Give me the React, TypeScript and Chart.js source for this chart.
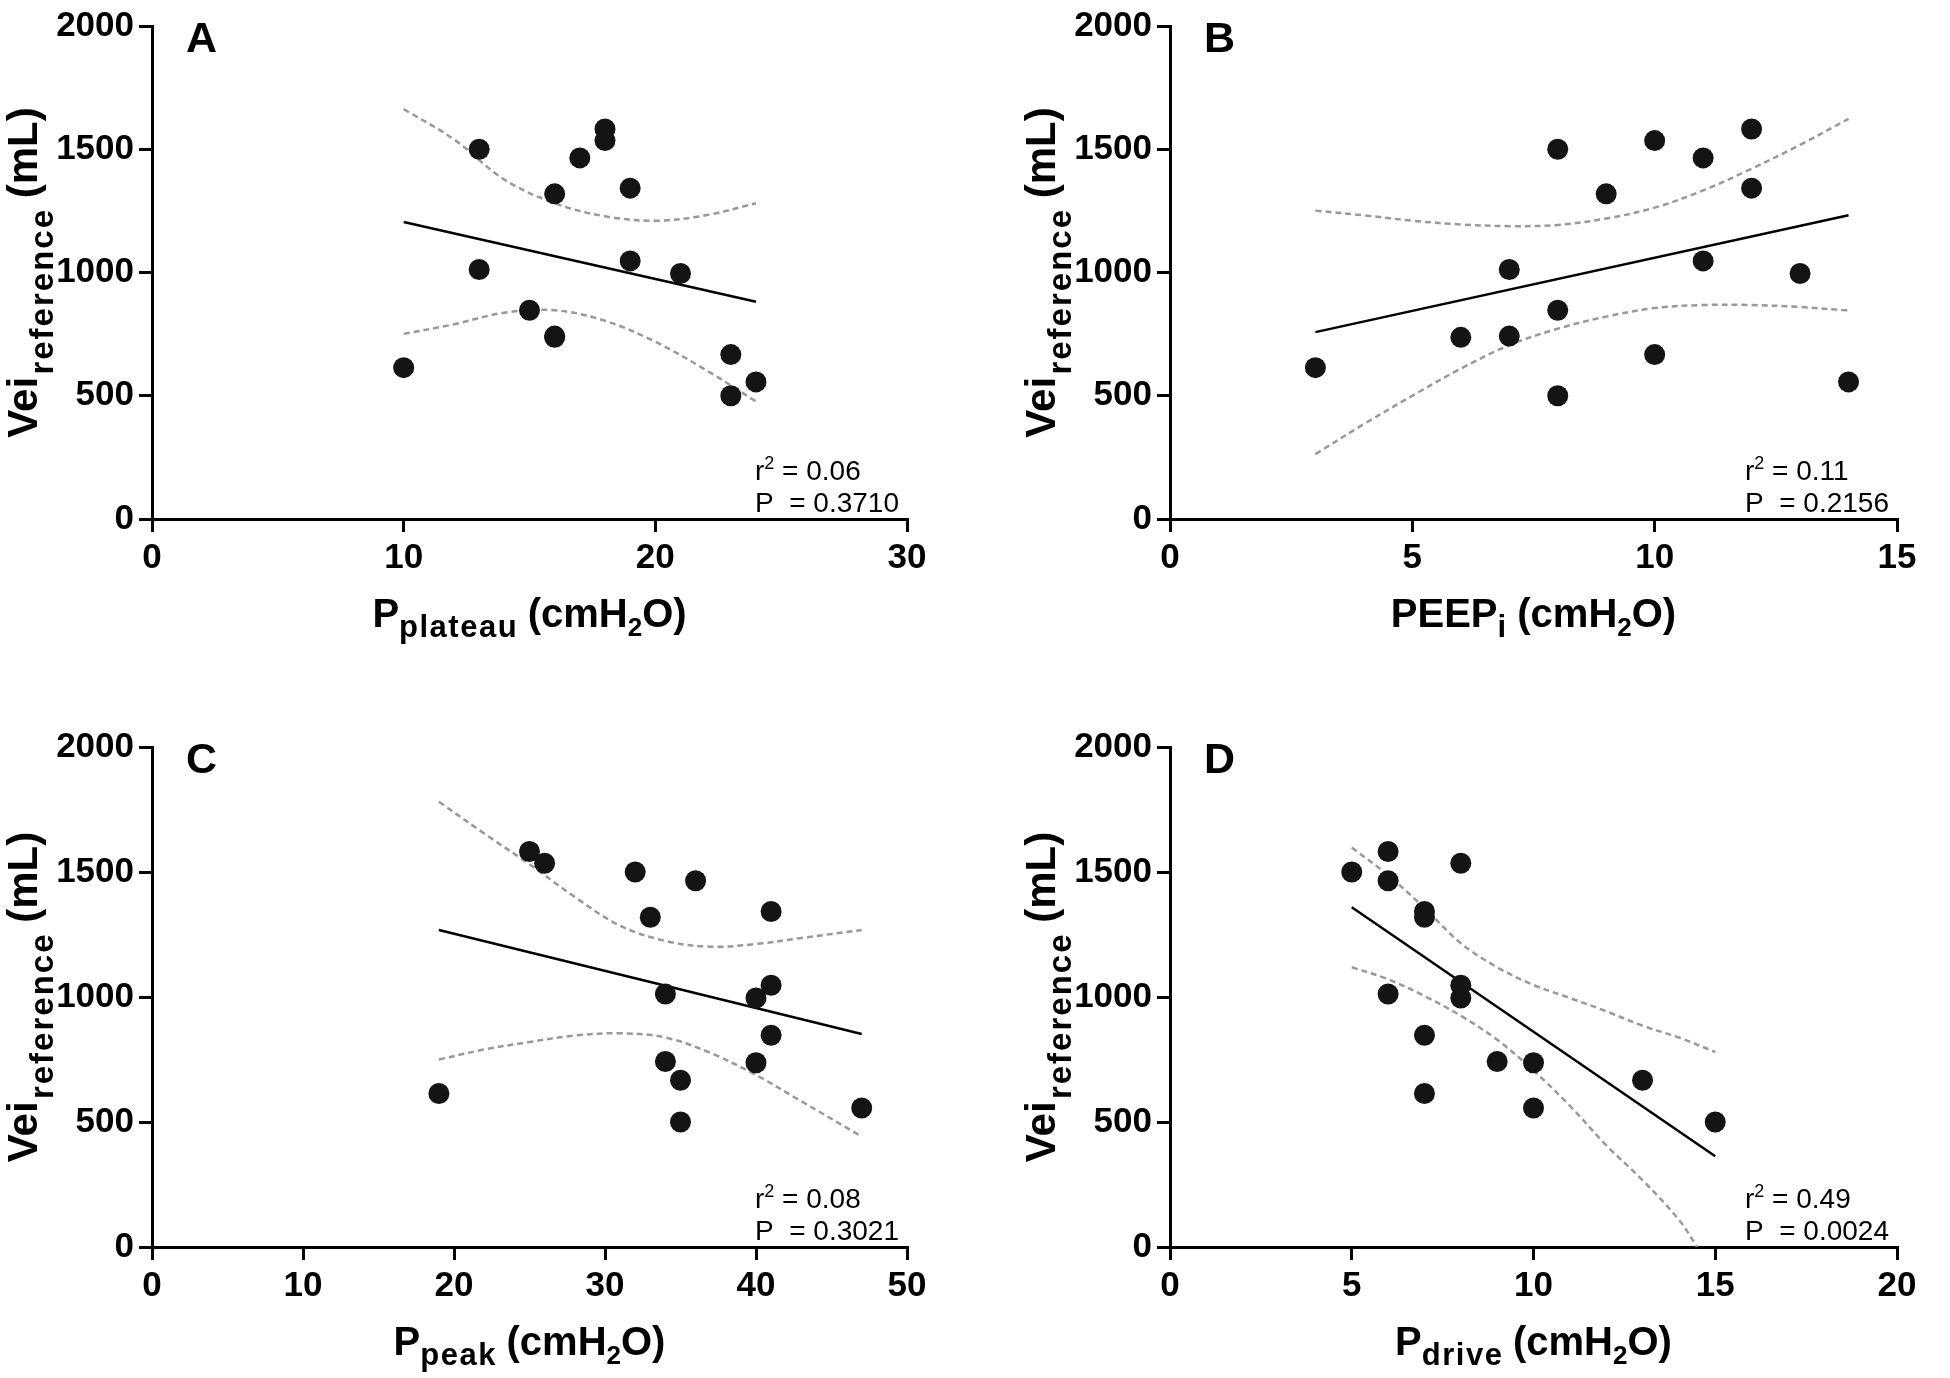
import React, { useEffect, useRef } from "react";
import { Chart, registerables } from "chart.js";

Chart.register(...registerables);

// ---- data (one entry per subject) ----
const vei = [1582, 1535, 1500, 1465, 1342, 1319, 1047, 1012, 996, 847, 742, 737, 667, 614, 556, 500];
const pPlateau = [18, 18, 13, 17, 19, 16, 19, 13, 21, 15, 16, 16, 23, 10, 24, 23];
const peepI = [12, 10, 8, 11, 12, 9, 11, 7, 13, 8, 7, 6, 10, 3, 14, 8];
const pPeak = [25, 26, 32, 36, 41, 33, 41, 34, 40, 41, 34, 40, 35, 19, 47, 35];
const pDrive = [6, 8, 5, 6, 7, 7, 8, 6, 8, 7, 9, 10, 13, 7, 10, 15];

const yTicks = [0, 500, 1000, 1500, 2000];
const xTicksA = [0, 10, 20, 30];
const xTicksB = [0, 5, 10, 15];
const xTicksC = [0, 10, 20, 30, 40, 50];
const xTicksD = [0, 5, 10, 15, 20];

// regression lines
const fitAx = [10, 24];
const fitAy = [1205, 881];
const fitBx = [3, 14];
const fitBy = [758, 1232];
const fitCx = [19, 47];
const fitCy = [1268, 852];
const fitDx = [5, 15];
const fitDy = [1359, 363];

// 95% confidence bands
const bandAx = [10, 12, 14, 16, 18, 20, 22, 24];
const bandAupper = [1663, 1540, 1377, 1281, 1228, 1210, 1232, 1281];
const bandAlower = [751, 790, 837, 847, 804, 719, 605, 477];

const bandBx = [3, 4, 5, 6, 7, 8, 9, 10, 11, 12, 13, 14];
const bandBupper = [1251, 1232, 1210, 1195, 1188, 1193, 1219, 1263, 1333, 1421, 1518, 1623];
const bandBlower = [263, 385, 500, 610, 705, 772, 821, 856, 868, 868, 860, 846];

const bandCx = [19, 22, 25, 28, 31, 34, 37, 40, 43, 47];
const bandCupper = [1781, 1654, 1531, 1400, 1285, 1224, 1201, 1212, 1236, 1268];
const bandClower = [750, 790, 820, 846, 855, 838, 776, 688, 583, 442];

const bandDx = [5, 6, 7, 8, 9, 10, 11, 12, 13, 14, 15];
const bandDupper = [1598, 1487, 1356, 1215, 1119, 1048, 996, 943, 885, 838, 780];
const bandDlowerX = [5, 6, 7, 8, 9, 10, 11, 12, 13, 14, 14.5];
const bandDlower = [1119, 1071, 1004, 925, 829, 706, 565, 407, 267, 109, 0];

const letters = ["A", "B", "C", "D"];
const r2Texts = ["0.06", "0.11", "0.08", "0.49"];
const pTexts = ["0.3710", "0.2156", "0.3021", "0.0024"];
const xMain = ["P", "PEEP", "P", "P"];
const xSub = ["plateau", "i", "peak", "drive"];

const FONT = '"Liberation Sans", Arial, Helvetica, sans-serif';
const W = 975;
const H = 689;

type Part = { t: string; size: number; dy: number; ls?: number; bold?: boolean };

function partWidth(ctx: CanvasRenderingContext2D, p: Part) {
  ctx.font = `${p.bold === false ? "normal" : "bold"} ${p.size}px ${FONT}`;
  const ls = p.ls || 0;
  let w = 0;
  for (const ch of p.t) w += ctx.measureText(ch).width;
  return w + ls * Math.max(0, p.t.length - 1);
}

function drawParts(ctx: CanvasRenderingContext2D, parts: Part[], x: number, y: number, align: "center" | "left") {
  const widths = parts.map((p) => partWidth(ctx, p));
  const total = widths.reduce((a, b) => a + b, 0);
  let cx = align === "center" ? x - total / 2 : x;
  ctx.textAlign = "left";
  ctx.textBaseline = "alphabetic";
  ctx.fillStyle = "#000";
  parts.forEach((p, i) => {
    ctx.font = `${p.bold === false ? "normal" : "bold"} ${p.size}px ${FONT}`;
    const ls = p.ls || 0;
    if (ls) {
      let px = cx;
      for (const ch of p.t) {
        ctx.fillText(ch, px, y + p.dy);
        px += ctx.measureText(ch).width + ls;
      }
    } else {
      ctx.fillText(p.t, cx, y + p.dy);
    }
    cx += widths[i];
  });
}

type PanelCfg = {
  idx: number;
  xs: number[];
  xTicks: number[];
  fitX: number[];
  fitY: number[];
  upX: number[];
  up: number[];
  loX: number[];
  lo: number[];
  left: number;
  top: number;
  area: { left: number; right: number; top: number; bottom: number };
};

const panels: PanelCfg[] = [
  { idx: 0, xs: pPlateau, xTicks: xTicksA, fitX: fitAx, fitY: fitAy, upX: bandAx, up: bandAupper, loX: bandAx, lo: bandAlower, left: 0, top: 0, area: { left: 152, right: 907, top: 17.5, bottom: 519 } },
  { idx: 1, xs: peepI, xTicks: xTicksB, fitX: fitBx, fitY: fitBy, upX: bandBx, up: bandBupper, loX: bandBx, lo: bandBlower, left: 975, top: 0, area: { left: 195, right: 922, top: 17.5, bottom: 519 } },
  { idx: 2, xs: pPeak, xTicks: xTicksC, fitX: fitCx, fitY: fitCy, upX: bandCx, up: bandCupper, loX: bandCx, lo: bandClower, left: 0, top: 689, area: { left: 152, right: 907, top: 58, bottom: 558 } },
  { idx: 3, xs: pDrive, xTicks: xTicksD, fitX: fitDx, fitY: fitDy, upX: bandDx, up: bandDupper, loX: bandDlowerX, lo: bandDlower, left: 975, top: 689, area: { left: 195, right: 922, top: 58, bottom: 558 } },
];

function Panel({ cfg }: { cfg: PanelCfg }) {
  const ref = useRef<HTMLCanvasElement | null>(null);
  useEffect(() => {
    if (!ref.current) return;
    const i = cfg.idx;
    const textPlugin = {
      id: "panelText",
      afterDraw(chart: any) {
        const ctx: CanvasRenderingContext2D = chart.ctx;
        const a = chart.chartArea;
        ctx.save();
        // panel letter
        ctx.font = `bold 43px ${FONT}`;
        ctx.fillStyle = "#000";
        ctx.textAlign = "left";
        ctx.textBaseline = "alphabetic";
        ctx.fillText(letters[i], a.left + 34, a.top + 25.5);
        // x title
        drawParts(
          ctx,
          [
            { t: xMain[i], size: 40, dy: 0 },
            { t: xSub[i], size: 31, dy: 10, ls: 1.5 },
            { t: " (cmH", size: 40, dy: 0 },
            { t: "2", size: 26, dy: 9 },
            { t: "O)", size: 40, dy: 0 },
          ],
          (a.left + a.right) / 2,
          a.bottom + 108,
          "center"
        );
        // y title
        ctx.save();
        ctx.translate(a.left - 115, (a.top + a.bottom) / 2);
        ctx.rotate(-Math.PI / 2);
        drawParts(
          ctx,
          [
            { t: "Vei", size: 42, dy: 0 },
            { t: "reference", size: 33, dy: 16, ls: 2 },
            { t: " (mL)", size: 42, dy: 0 },
          ],
          0,
          0,
          "center"
        );
        ctx.restore();
        // stats
        const sx = a.right - 152;
        drawParts(
          ctx,
          [
            { t: "r", size: 28, dy: 0, bold: false },
            { t: "2", size: 18, dy: -11, bold: false },
            { t: " = " + r2Texts[i], size: 28, dy: 0, bold: false },
          ],
          sx,
          a.bottom - 39,
          "left"
        );
        drawParts(ctx, [{ t: "P  = " + pTexts[i], size: 28, dy: 0, bold: false }], sx, a.bottom - 7, "left");
        ctx.restore();
      },
    };

    const area = cfg.area;
    const xMax = cfg.xTicks[cfg.xTicks.length - 1];
    const axisCommon = {
      type: "linear" as const,
      offset: false,
      grid: { display: true, drawOnChartArea: false, drawTicks: true, tickLength: 13, color: "#000", lineWidth: 3 },
      border: { display: true, color: "#000", width: 3 },
      ticks: {
        color: "#000",
        font: { family: FONT, size: 35, weight: "bold" as const },
        padding: 5,
        maxRotation: 0,
        autoSkip: false,
        callback: (v: any) => String(v),
      },
    };

    const chart = new Chart(ref.current, {
      type: "scatter",
      data: {
        datasets: [
          {
            data: cfg.xs.map((x, k) => ({ x, y: vei[k] })),
            pointRadius: 10.5,
            pointBackgroundColor: "#141414",
            pointBorderWidth: 0,
            showLine: false,
          },
          {
            data: cfg.fitX.map((x, k) => ({ x, y: cfg.fitY[k] })),
            showLine: true,
            pointRadius: 0,
            borderColor: "#000",
            borderWidth: 2.5,
          },
          {
            data: cfg.upX.map((x, k) => ({ x, y: cfg.up[k] })),
            showLine: true,
            pointRadius: 0,
            borderColor: "#999999",
            borderWidth: 2.5,
            borderDash: [6, 4],
            tension: 0.35,
          },
          {
            data: cfg.loX.map((x, k) => ({ x, y: cfg.lo[k] })),
            showLine: true,
            pointRadius: 0,
            borderColor: "#999999",
            borderWidth: 2.5,
            borderDash: [6, 4],
            tension: 0.35,
          },
        ],
      },
      options: {
        responsive: false,
        animation: false,
        devicePixelRatio: 1,
        events: [],
        layout: {
          autoPadding: false,
          padding: { top: area.top, right: W - area.right, bottom: 0, left: 0 },
        },
        plugins: { legend: { display: false }, tooltip: { enabled: false }, title: { display: false } },
        scales: {
          x: {
            ...axisCommon,
            position: "bottom",
            min: 0,
            max: xMax,
            afterBuildTicks: (s: any) => {
              s.ticks = cfg.xTicks.map((v) => ({ value: v }));
            },
            afterFit: (s: any) => {
              s.height = H - area.bottom;
            },
          },
          y: {
            ...axisCommon,
            position: "left",
            min: 0,
            max: 2000,
            afterBuildTicks: (s: any) => {
              s.ticks = yTicks.map((v) => ({ value: v }));
            },
            afterFit: (s: any) => {
              s.width = area.left;
            },
          },
        },
      } as any,
      plugins: [textPlugin],
    });
    return () => chart.destroy();
  }, [cfg]);

  return (
    <canvas
      ref={ref}
      width={W}
      height={H}
      style={{ position: "absolute", left: cfg.left, top: cfg.top, width: W, height: H }}
    />
  );
}

export default function App() {
  return (
    <div style={{ position: "absolute", left: 0, top: 0, width: 1950, height: 1378, background: "#fff", overflow: "hidden" }}>
      {panels.map((p) => (
        <Panel key={p.idx} cfg={p} />
      ))}
    </div>
  );
}
